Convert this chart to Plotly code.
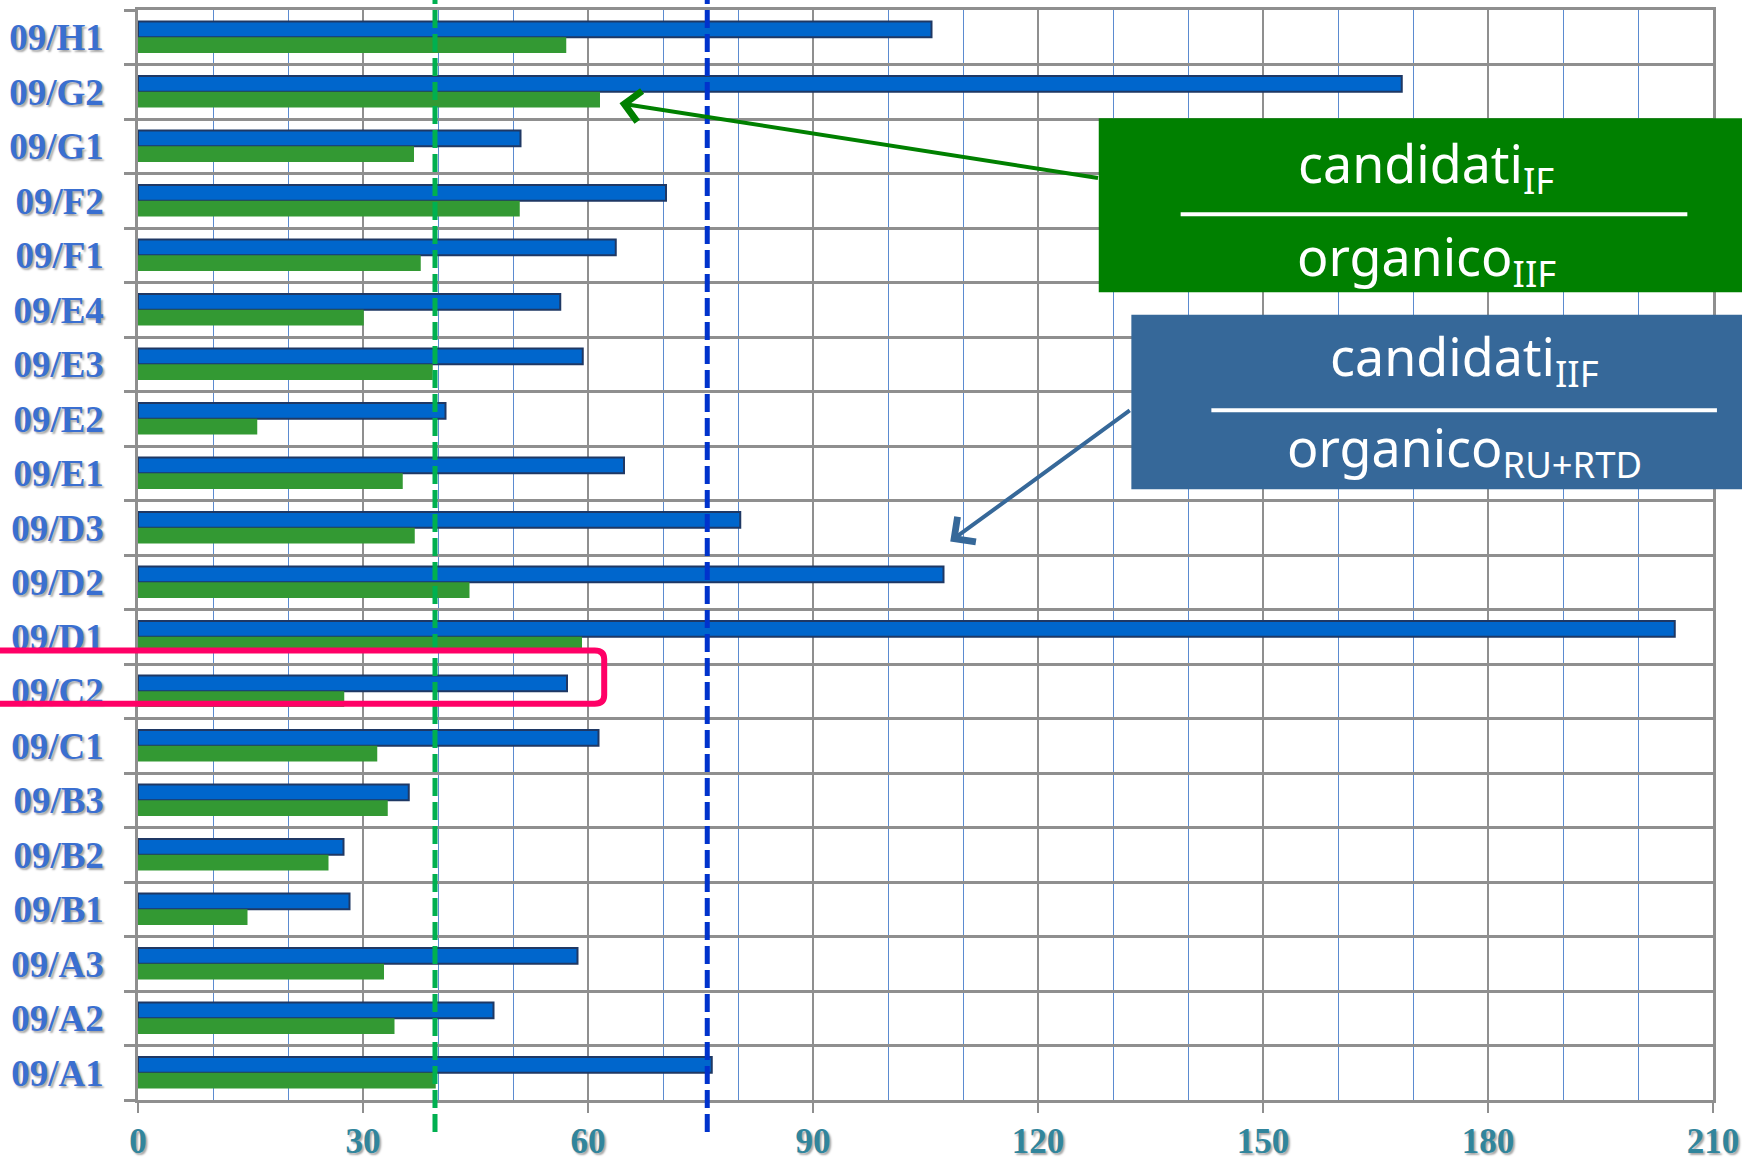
import plotly.graph_objects as go

# ---------------- data (top to bottom) ----------------
categories = ["09/H1", "09/G2", "09/G1", "09/F2", "09/F1", "09/E4", "09/E3", "09/E2",
              "09/E1", "09/D3", "09/D2", "09/D1", "09/C2", "09/C1", "09/B3", "09/B2",
              "09/B1", "09/A3", "09/A2", "09/A1"]
cand_iif_over_ru_rtd = [105.8, 168.5, 51.0, 70.4, 63.7, 56.3, 59.3, 41.0, 64.8, 80.3,
                        107.4, 204.9, 57.2, 61.4, 36.1, 27.4, 28.2, 58.6, 47.4, 76.5]
cand_if_over_iif = [57.1, 61.6, 36.8, 50.9, 37.7, 30.1, 39.3, 15.9, 35.3, 36.9,
                    44.2, 59.2, 27.5, 31.9, 33.3, 25.4, 14.6, 32.8, 34.2, 39.7]
green_reference = 39.6
blue_reference = 75.9
x_ticks = [0, 30, 60, 90, 120, 150, 180, 210]
highlighted = "09/C2"

positions = list(range(len(categories)))

BLUE = "#0066cc"
GREEN = "#339933"
GRAY = "#8f8f8f"

fig = go.Figure()
fig.add_trace(go.Bar(
    y=positions, x=cand_iif_over_ru_rtd, orientation="h",
    width=0.29, offset=-0.29,
    marker=dict(color=BLUE, line=dict(color="#1f3864", width=2)),
    name="candidati IIF / organico RU+RTD", hoverinfo="x",
))
fig.add_trace(go.Bar(
    y=positions, x=cand_if_over_iif, orientation="h",
    width=0.29, offset=0.0,
    marker=dict(color=GREEN, line=dict(width=0)),
    name="candidati IF / organico IIF", hoverinfo="x",
))

# reference dashed lines
for val, col in [(green_reference, "#00b050"), (blue_reference, "#0033cc")]:
    fig.add_shape(type="line", xref="x", yref="paper", x0=val, x1=val,
                  y0=-0.0294, y1=1.01, line=dict(color=col, width=5, dash="18px,6px"),
                  layer="above")

# highlight rectangle (rounded right corners) around 09/C2
hi = categories.index(highlighted)
top, bot = hi - 0.75, hi + 0.23
xl, xr, rx, ry = -0.12, 0.296, 0.006, 0.16
fig.add_shape(type="path", xref="paper", yref="y",
              path=(f"M {xl},{top} L {xr - rx},{top} Q {xr},{top} {xr},{top + ry} "
                    f"L {xr},{bot - ry} Q {xr},{bot} {xr - rx},{bot} L {xl},{bot} Z"),
              line=dict(color="#ff0066", width=6), layer="above")

# green legend box
fig.add_shape(type="rect", xref="paper", yref="paper", x0=0.610, x1=1.05,
              y0=0.7411, y1=0.9007, fillcolor="#008000", line=dict(width=0), layer="above")
fig.add_shape(type="line", xref="paper", yref="paper", x0=0.662, x1=0.9837,
              y0=0.8126, y1=0.8126, line=dict(color="white", width=4), layer="above")
# blue legend box
fig.add_shape(type="rect", xref="paper", yref="paper", x0=0.6307, x1=1.05,
              y0=0.5604, y1=0.7205, fillcolor="#366899", line=dict(width=0), layer="above")
fig.add_shape(type="line", xref="paper", yref="paper", x0=0.6815, x1=1.0025,
              y0=0.6328, y1=0.6328, line=dict(color="white", width=4), layer="above")

box_font = dict(family="Noto Sans", size=52, color="white")
texts = [
    ("candidati<sub>IF</sub>", 0.818, 0.857),
    ("organico<sub>IIF</sub>", 0.818, 0.772),
    ("candidati<sub>IIF</sub>", 0.842, 0.680),
    ("organico<sub>RU+RTD</sub>", 0.842, 0.596),
]
for t, x, y in texts:
    fig.add_annotation(text=t, xref="paper", yref="paper", x=x, y=y,
                       xanchor="center", yanchor="middle", showarrow=False, font=box_font)

# arrows
g2 = categories.index("09/G2")
fig.add_annotation(x=64.2, y=g2 + 0.21, xref="x", yref="y", ax=480, ay=75,
                   showarrow=True, arrowhead=4, arrowsize=1.5, arrowwidth=4,
                   arrowcolor="#008000", text="")
fig.add_annotation(x=108.3, y=9.25, xref="x", yref="y", ax=181, ay=-132,
                   showarrow=True, arrowhead=4, arrowsize=1.5, arrowwidth=4,
                   arrowcolor="#366899", text="")

fig.update_layout(
    width=1742, height=1159,
    margin=dict(l=138, r=29, t=10, b=59, autoexpand=False),
    paper_bgcolor="white", plot_bgcolor="white",
    showlegend=False, barmode="overlay",
)
fig.update_xaxes(
    automargin=False,
    range=[0, 210], tickvals=x_ticks, ticktext=[str(v) for v in x_ticks],
    showgrid=True, gridcolor=GRAY, gridwidth=2,
    ticks="outside", ticklen=10, tickwidth=2, tickcolor=GRAY,
    showline=True, linecolor=GRAY, linewidth=2.5, mirror=True,
    zeroline=False,
    minor=dict(dtick=10, tick0=0, showgrid=True, gridcolor="#5b8bd0", gridwidth=1.3, ticks=""),
    tickfont=dict(family="Liberation Serif", size=35, color="#31859c",
                  weight="bold", shadow="2px 2px 2px rgba(0,0,0,0.35)"),
    ticklabelstandoff=-2,
)
fig.update_yaxes(
    automargin=False,
    range=[len(categories) - 0.5, -0.5],
    tickvals=positions, ticktext=categories,
    showgrid=False, zeroline=False,
    ticks="outside", ticklen=11, tickcolor="rgba(0,0,0,0)",
    showline=True, linecolor=GRAY, linewidth=2.5, mirror=True,
    minor=dict(tickmode="linear", tick0=-0.5, dtick=1, showgrid=True, gridcolor=GRAY,
               gridwidth=2.5, ticks="outside", ticklen=11, tickwidth=2.5, tickcolor=GRAY),
    tickfont=dict(family="Liberation Serif", size=37, color="#3a6fd0",
                  weight="bold", shadow="2px 2px 2px rgba(0,0,0,0.35)"),
    ticklabelstandoff=13,
)

fig.write_html("out.html", config={"displayModeBar": False},
               post_script="document.body.style.margin='0';document.body.style.overflow='hidden';")
